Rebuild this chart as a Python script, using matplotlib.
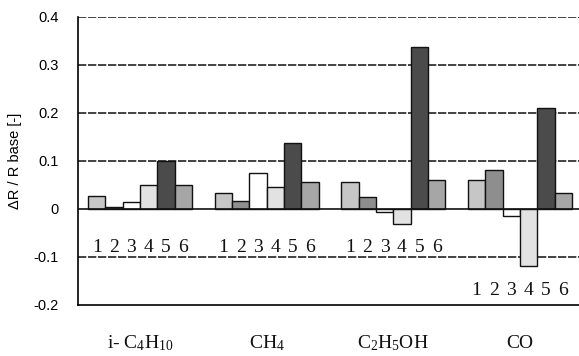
import numpy as np
import matplotlib.pyplot as plt
import matplotlib.transforms as mtransforms

# -------- data --------
gases = ["i- C$_4$H$_{10}$", "CH$_4$", "C$_2$H$_5$OH", "CO"]
sensor_ids = ["1", "2", "3", "4", "5", "6"]
ic4h10 = [0.028, 0.004, 0.014, 0.049, 0.100, 0.051]
ch4 = [0.033, 0.017, 0.075, 0.046, 0.137, 0.056]
c2h5oh = [0.056, 0.025, -0.006, -0.031, 0.337, 0.060]
co = [0.060, 0.081, -0.015, -0.118, 0.210, 0.034]
values = [ic4h10, ch4, c2h5oh, co]
digit_y = [-0.08, -0.08, -0.08, -0.17]

bar_colors = ["#c6c6c6", "#8e8e8e", "#ffffff", "#e2e2e2", "#4b4b4b", "#a6a6a6"]

plt.rcParams["mathtext.fontset"] = "custom"
plt.rcParams["mathtext.rm"] = "Liberation Serif"
plt.rcParams["mathtext.it"] = "Liberation Serif:italic"

fig = plt.figure(figsize=(5.79, 3.56), dpi=100)
ax = fig.add_axes([0.1347, 0.1433, 0.865, 0.809])
label_tr = mtransforms.blended_transform_factory(ax.transData, fig.transFigure)

pitch = 7.3
for g, vals in enumerate(values):
    x = g * pitch + np.arange(len(vals))
    ax.bar(x, vals, width=1.0, align="edge", color=bar_colors,
           edgecolor="#111111", linewidth=1.0, zorder=3)
    for xi, s in zip(x, sensor_ids):
        ax.text(xi + 0.5, digit_y[g], s, ha="center", va="center",
                fontsize=14, family="Liberation Serif", color="#111111")
    ax.text(g * pitch + 3, 0.035, gases[g], transform=label_tr,
            ha="center", va="center", fontsize=14,
            family="Liberation Serif", color="#111111", clip_on=False)

ax.set_xlim(-0.58, 28.3)
ax.set_ylim(-0.2, 0.4)
ax.set_yticks([-0.2, -0.1, 0, 0.1, 0.2, 0.3, 0.4])
ax.set_yticklabels(["-0.2", "-0.1", "0", "0.1", "0.2", "0.3", "0.4"],
                   family="Liberation Sans", fontsize=10.5)
ax.set_xticks([])
ax.tick_params(axis="y", length=0, pad=14)

for yv in [-0.1, 0.1, 0.2, 0.3, 0.4]:
    ax.axhline(yv, color="#222222", linewidth=1.2, linestyle=(0, (5, 1)), zorder=1)
ax.axhline(0, color="#111111", linewidth=1.2, zorder=4)

ax.spines["top"].set_visible(False)
ax.spines["right"].set_visible(False)
ax.spines["left"].set_linewidth(1.2)
ax.spines["bottom"].set_linewidth(1.2)

ax.set_ylabel("\u0394R / R base [-]", family="Liberation Sans", fontsize=10.5,
              labelpad=8)

fig.savefig("out.png", dpi=100)
